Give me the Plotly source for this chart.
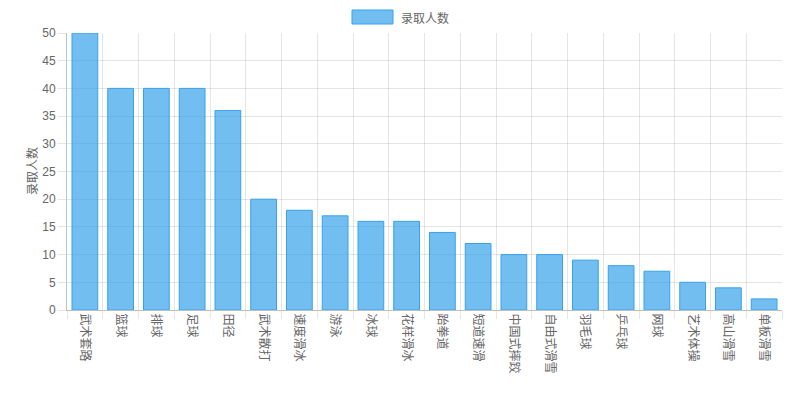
import plotly.graph_objects as go

categories = ["武术套路", "篮球", "排球", "足球", "田径", "武术散打", "速度滑冰", "游泳", "冰球", "花样滑冰",
              "跆拳道", "短道速滑", "中国式摔跤", "自由式滑雪", "羽毛球", "乒乓球", "网球", "艺术体操", "高山滑雪", "单板滑雪"]
values = [50, 40, 40, 40, 36, 20, 18, 17, 16, 16, 14, 12, 10, 10, 9, 8, 7, 5, 4, 2]
series_name = "录取人数"
y_ticks = [0, 5, 10, 15, 20, 25, 30, 35, 40, 45, 50]

FONT = "Liberation Sans, Arial, Noto Sans CJK SC, sans-serif"
CJK = "Noto Sans CJK SC, sans-serif"
GRID = "rgba(0,0,0,0.1)"

# page body has an 8px default margin; compensate
OFF = 8
W, H = 803 - OFF, 397 - OFF
L, R, T, B = 67 - OFF, 21, 33 - OFF, 87
PW, PH = W - L - R, H - T - B


def px_x(x):
    return (x - OFF - L) / PW


def px_y(y):
    return (H - B - (y - OFF)) / PH


fig = go.Figure()
fig.add_trace(go.Bar(
    x=categories, y=values, name=series_name,
    marker=dict(color="rgba(54,162,235,0.7)", line=dict(color="rgba(54,162,235,1)", width=1)),
    showlegend=False,
))

fig.update_layout(
    width=W, height=H,
    margin=dict(l=L, r=R, t=T, b=B),
    paper_bgcolor="white", plot_bgcolor="white",
    font=dict(family=FONT, size=12, color="#666"),
    bargap=0.28,
    xaxis=dict(
        tickangle=90, tickson="boundaries", showgrid=True, gridcolor=GRID, gridwidth=1,
        ticks="outside", ticklen=8, tickcolor=GRID, showline=True, linecolor="rgba(0,0,0,0.25)", linewidth=1,
        tickfont=dict(family=CJK, size=12, color="#666"),
        automargin=False,
    ),
    yaxis=dict(
        range=[0, 50], tickvals=y_ticks, showgrid=True, gridcolor=GRID, gridwidth=1,
        ticks="outside", ticklen=8, tickcolor=GRID, showline=True, linecolor="rgba(0,0,0,0.25)", linewidth=1,
        zeroline=False, automargin=False,
        tickfont=dict(family=FONT, size=12, color="#666"),
    ),
    shapes=[dict(type="rect", xref="paper", yref="paper",
                 x0=px_x(352), x1=px_x(393), y0=px_y(24), y1=px_y(10),
                 fillcolor="rgba(54,162,235,0.7)", line=dict(color="rgba(54,162,235,1)", width=1))],
    annotations=[
        dict(text=series_name, xref="paper", yref="paper", x=px_x(399), y=px_y(17),
             xanchor="left", yanchor="middle", showarrow=False,
             font=dict(family=CJK, size=12, color="#666")),
        dict(text=series_name, xref="paper", yref="paper", x=px_x(31), y=px_y(171),
             xanchor="center", yanchor="middle", showarrow=False, textangle=-90,
             font=dict(family=CJK, size=12, color="#666")),
    ],
)

fig.write_html("out.html")
